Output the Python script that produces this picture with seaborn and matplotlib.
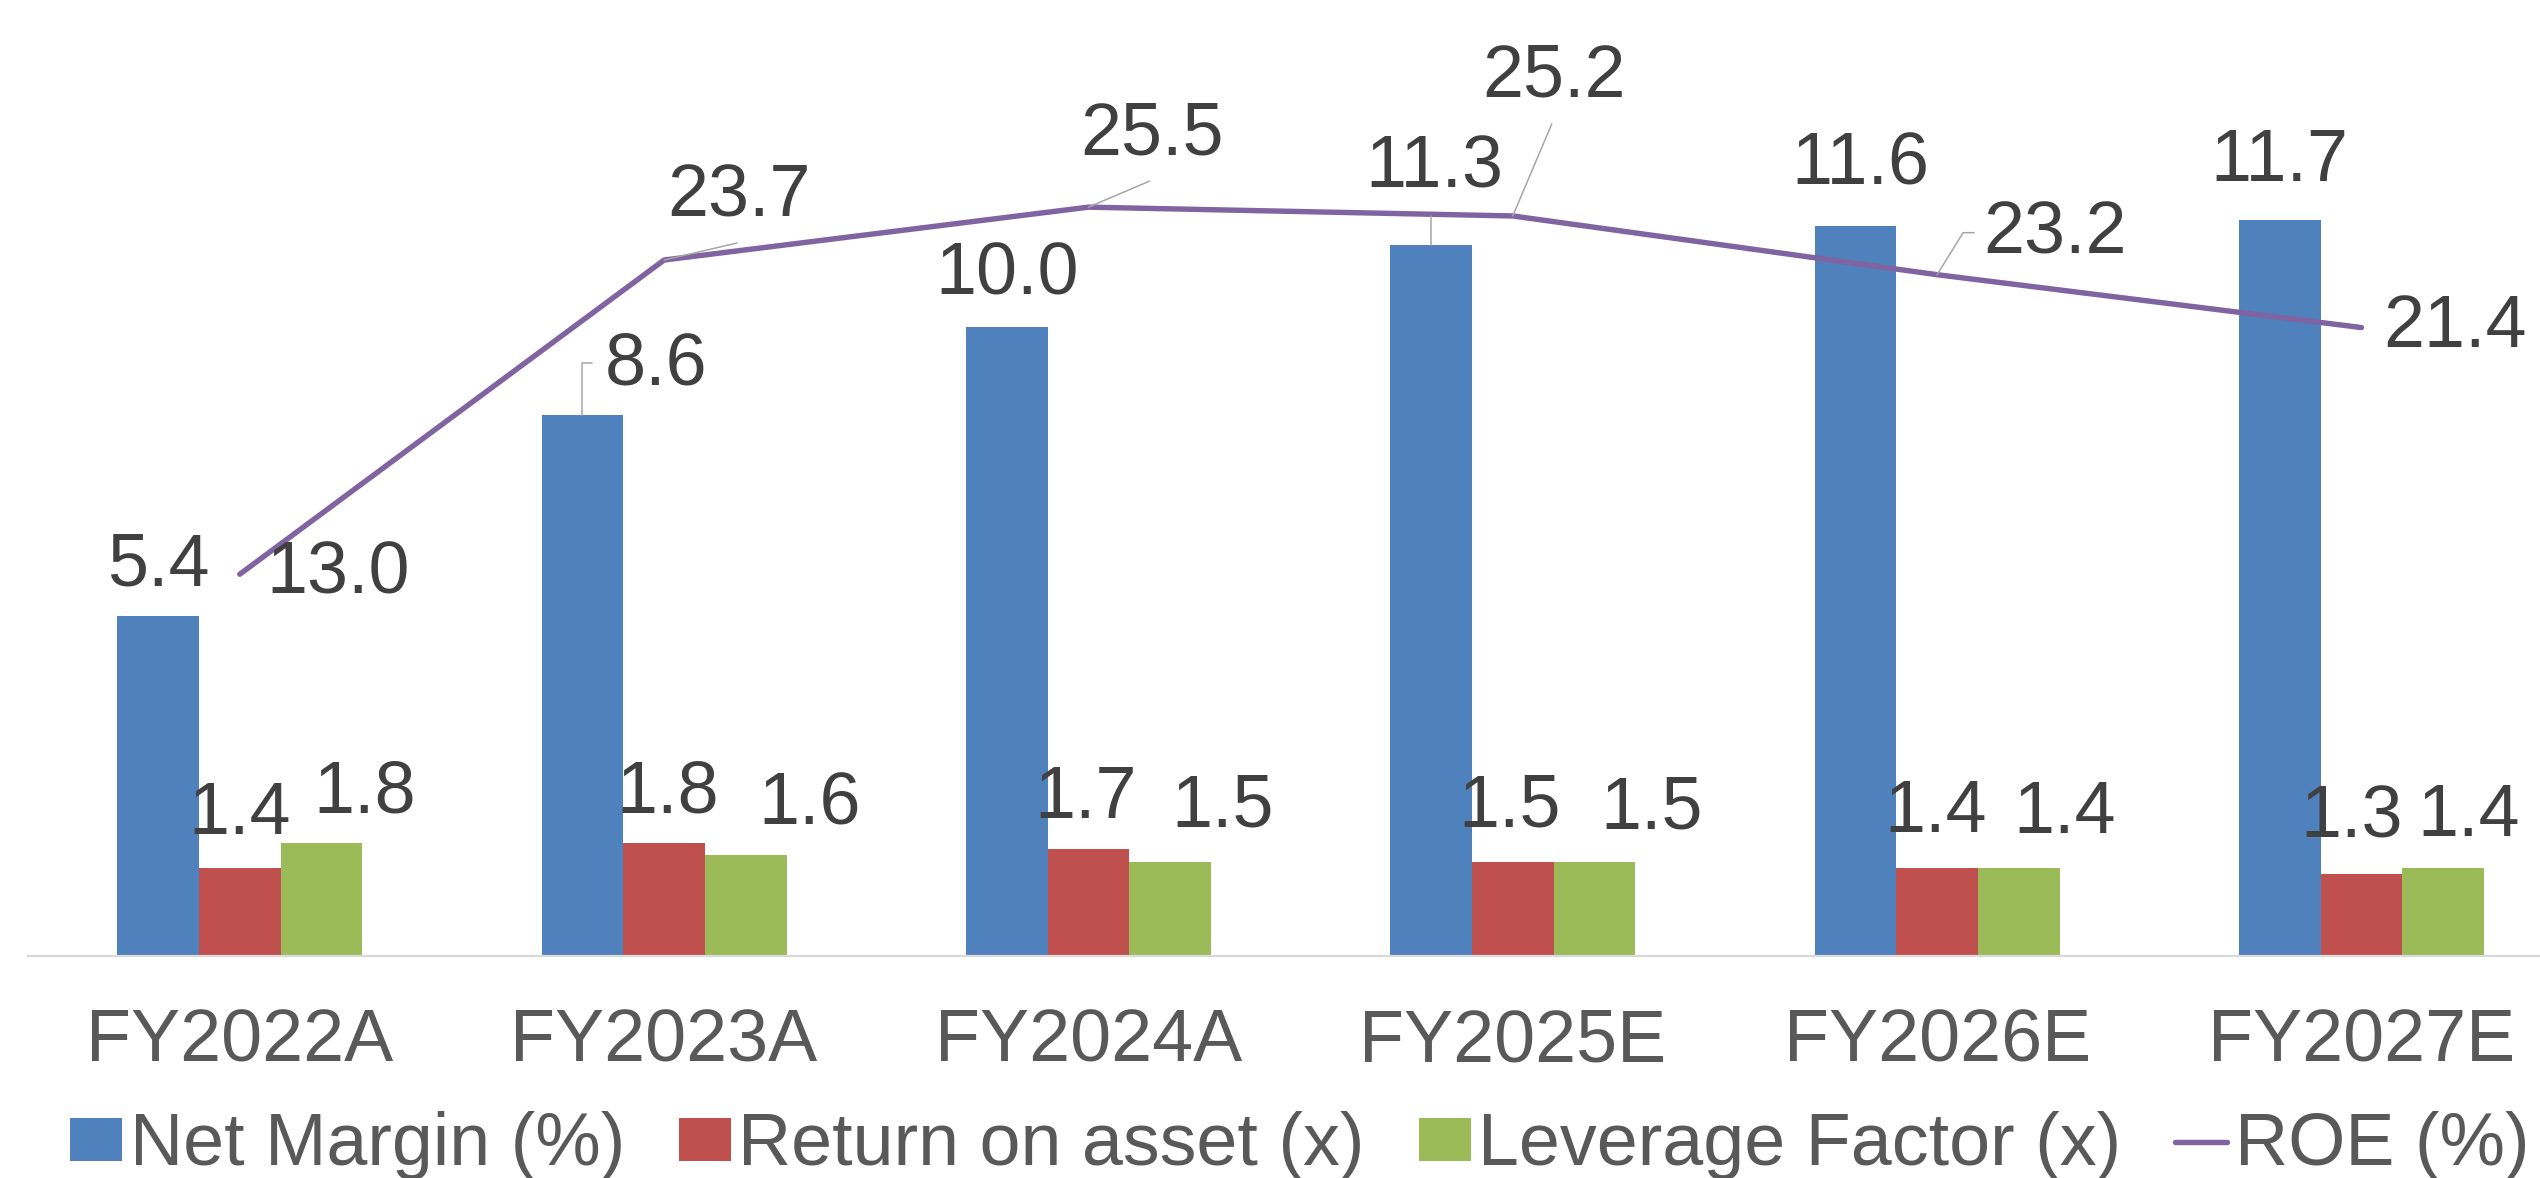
import numpy as np
import pandas as pd
import matplotlib
matplotlib.use("Agg")
import matplotlib.pyplot as plt
from matplotlib.patches import Patch
from matplotlib.lines import Line2D
from matplotlib.transforms import IdentityTransform
import seaborn as sns

# ---------------- data ----------------
categories = ["FY2022A", "FY2023A", "FY2024A", "FY2025E", "FY2026E", "FY2027E"]
net_margin = [5.4, 8.6, 10.0, 11.3, 11.6, 11.7]
return_on_asset = [1.4, 1.8, 1.7, 1.5, 1.4, 1.3]
leverage_factor = [1.8, 1.6, 1.5, 1.5, 1.4, 1.4]
roe = [13.0, 23.7, 25.5, 25.2, 23.2, 21.4]
series_names = ["Net Margin (%)", "Return on asset (x)", "Leverage Factor (x)"]
line_name = "ROE (%)"

# ---------------- style ----------------
sns.set_style("white")
plt.rcParams["font.family"] = ["Liberation Sans", "DejaVu Sans"]
colors = ["#4F81BD", "#C0504D", "#9BBB59"]
line_color = "#8064A2"
label_color = "#404040"
axis_text_color = "#595959"
leader_color = "#A6A6A6"
FS = 53
LW = 3.9

W, H = 2540, 1178
fig = plt.figure(figsize=(W / 100, H / 100), dpi=100)
ax = fig.add_axes([27.6 / W, 1 - 956 / H, 2546 / W, 881 / H])

df = pd.DataFrame({
    "cat": np.repeat(categories, 3),
    "series": series_names * len(categories),
    "value": np.ravel(np.column_stack([net_margin, return_on_asset, leverage_factor])),
})
sns.barplot(data=df, x="cat", y="value", hue="series", hue_order=series_names,
            palette=colors, saturation=1, width=0.5775, gap=0, ax=ax,
            legend=False, linewidth=0, errorbar=None)

ax2 = ax.twinx()
ax2.set_position(ax.get_position())
xs = np.arange(len(categories))
sns.lineplot(x=xs, y=roe, ax=ax2, color=line_color, linewidth=LW,
             solid_capstyle="round", solid_joinstyle="round")

ax.set_xlim(-0.5, len(categories) - 0.5)
ax.set_ylim(0, 14)
ax2.set_ylim(0, 30)
ax2.set_xlim(-0.5, len(categories) - 0.5)

for a in (ax, ax2):
    for s in ["top", "right", "left"]:
        a.spines[s].set_visible(False)
    a.set_yticks([])
    a.set_ylabel("")
    a.set_xlabel("")
ax2.spines["bottom"].set_visible(False)
ax.spines["bottom"].set_color("#D9D9D9")
ax.spines["bottom"].set_linewidth(1.6)
ax.tick_params(axis="x", length=0, pad=37, labelsize=FS, labelcolor=axis_text_color)
ax.set_xticks(xs)
ax.set_xticklabels(categories)

# ---------------- labels ----------------
bw = 0.5775 / 3
nm_off = [(0, 50), (74, 50), (0, 52), (3, 77), (5, 61), (0, 58)]
roa_off = [(0, 53), (4, 50), (-3, 51), (-3, 55), (-1, 55), (-10, 56)]
lf_off = [(43, 50), (64, 50), (53, 55), (57, 53), (46, 54), (26, 51)]
roe_off = [(98, 0), (75, 63), (64, 72), (41, 139), (118, 41), (94, 0)]

def put(a, x, y, text, off):
    a.annotate(text, xy=(x, y), xytext=off, textcoords="offset pixels",
               ha="center", va="center", fontsize=FS, color=label_color)

for i in range(len(categories)):
    put(ax, i - bw, net_margin[i], f"{net_margin[i]:.1f}", nm_off[i])
    put(ax, i, return_on_asset[i], f"{return_on_asset[i]:.1f}", roa_off[i])
    put(ax, i + bw, leverage_factor[i], f"{leverage_factor[i]:.1f}", lf_off[i])
    put(ax2, i, roe[i], f"{roe[i]:.1f}", roe_off[i])

# leader lines (pixel offsets from anchor)
def leader(a, x, y, pts):
    px, py = a.transData.transform((x, y))
    xx = [px] + [px + dx for dx, dy in pts]
    yy = [py] + [py + dy for dx, dy in pts]
    fig.add_artist(Line2D(xx, yy, transform=IdentityTransform(), color=leader_color,
                          linewidth=1.1, zorder=1))

leader(ax, 1 - bw, net_margin[1], [(0, 52), (10, 52)])
leader(ax, 3 - bw, net_margin[3], [(0, 29)])
leader(ax2, 1, roe[1], [(73, 17)])
leader(ax2, 2, roe[2], [(61, 26)])
leader(ax2, 3, roe[3], [(39, 92)])
leader(ax2, 4, roe[4], [(26, 42), (37, 42)])

# ---------------- legend ----------------
handles = [Patch(facecolor=c, edgecolor="none") for c in colors]
handles.append(Line2D([0], [0], color=line_color, linewidth=LW, solid_capstyle="round"))
fig.legend(handles, series_names + [line_name], loc="center left",
           bbox_to_anchor=(70 / W, 1 - 1146 / H), ncol=4, frameon=False,
           fontsize=FS, handlelength=0.71, handleheight=0.53, handletextpad=0.1,
           columnspacing=0.73, borderpad=0, borderaxespad=0, labelcolor=axis_text_color)

fig.savefig("out.png", dpi=100)
